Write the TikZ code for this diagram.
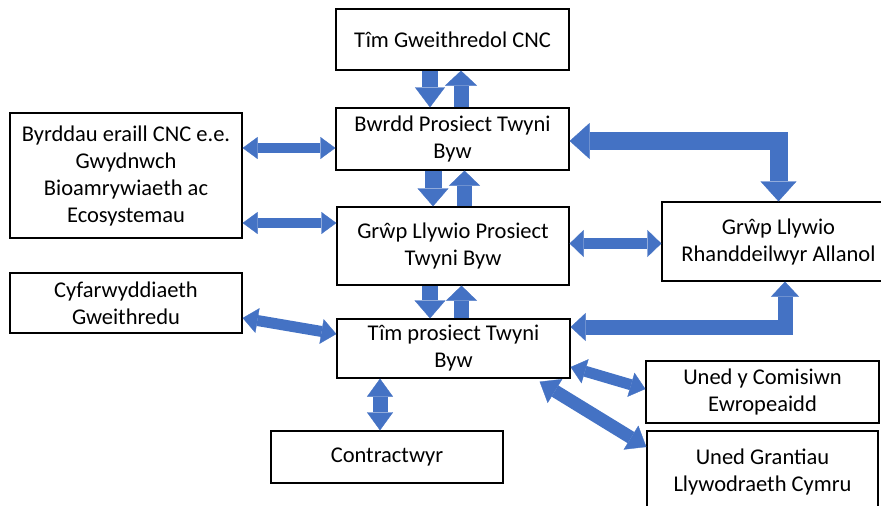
\documentclass[tikz,border=0pt]{standalone}
\usepackage{fontspec}
\setmainfont{Carlito}
\usetikzlibrary{arrows.meta,calc}
\definecolor{arrblue}{HTML}{4472C4}
\begin{document}
\begin{tikzpicture}[x=1pt,y=-1pt,
  box/.style={draw=black,line width=1.3pt,fill=white,inner sep=0pt,align=center,
    font=\fontsize{22.5}{27}\selectfont},
  blk/.style={draw=arrblue,line join=miter,line cap=butt},
  dbl/.style n args={3}{blk,line width=#1,
    arrows={Triangle[length=#3,width=#2,line width=0.3pt,color=arrblue]-Triangle[length=#3,width=#2,line width=0.3pt,color=arrblue]}},
  sgl/.style n args={3}{blk,line width=#1,
    arrows={-Triangle[length=#3,width=#2,line width=0.3pt,color=arrblue]}},
]
\clip (0,0) rectangle (881,506);
\fill[white] (0,0) rectangle (881,506);

\node[box,minimum width=233pt,minimum height=61pt] (gweith) at (452.5,39.5) {Tîm Gweithredol CNC};
\node[box,minimum width=233pt,minimum height=62pt] (bwrdd) at (452.5,139) {Bwrdd Prosiect Twyni\\Byw};
\node[box,minimum width=232pt,minimum height=125pt] (byrdd) at (126,175.5) {Byrddau eraill CNC e.e.\\Gwydnwch\\Bioamrywiaeth ac\\Ecosystemau};
\node[box,minimum width=232pt,minimum height=78pt] (grwp) at (453,246) {Grŵp Llywio Prosiect\\Twyni Byw};
\node[box,minimum width=233pt,minimum height=79pt] (rhand) at (778.5,241.5) {Grŵp Llywio\\Rhanddeilwyr Allanol};
\node[box,minimum width=232pt,minimum height=60pt] (cyf) at (126,303) {Cyfarwyddiaeth\\Gweithredu};
\node[box,minimum width=233pt,minimum height=59pt] (tim) at (453.5,348.5) {Tîm prosiect Twyni\\Byw};
\node[box,minimum width=232pt,minimum height=52pt] (cont) at (387,457) {Contractwyr};
\node[box,minimum width=233pt,minimum height=62pt] (comis) at (762.5,392) {Uned y Comisiwn\\Ewropeaidd};
\node[box,minimum width=231pt,minimum height=81pt] (grant) at (762.5,471.5) {Uned Grantiau\\Llywodraeth Cymru};

% vertical pairs
\draw[sgl={16}{30pt}{20pt}] ([xshift=-22.5pt]gweith.south) -- ([xshift=-22.5pt]gweith.south |- bwrdd.north);
\draw[sgl={15}{32pt}{15pt}] ([xshift=8.5pt]bwrdd.north) -- ([xshift=8.5pt]bwrdd.north |- gweith.south);
\draw[sgl={17}{31pt}{18pt}] ([xshift=-19.5pt]bwrdd.south) -- ([xshift=-19.5pt]bwrdd.south |- grwp.north);
\draw[sgl={15}{31pt}{15pt}] ([xshift=11.5pt]grwp.north) -- ([xshift=11.5pt]grwp.north |- bwrdd.south);
\draw[sgl={16}{31pt}{18pt}] ([xshift=-23pt]grwp.south) -- ([xshift=-23pt]grwp.south |- tim.north);
\draw[sgl={15}{31pt}{15pt}] ([xshift=8pt]tim.north) -- ([xshift=8pt]tim.north |- grwp.south);

% left side
\draw[dbl={10}{22pt}{15pt}] ([yshift=27.5pt]byrdd.east) -- ([yshift=27.5pt]byrdd.east -| bwrdd.west);
\draw[dbl={10}{22pt}{15pt}] ([yshift=-47.5pt]byrdd.east) -- ([yshift=-47.5pt]byrdd.east -| grwp.west);
\draw[dbl={11}{25pt}{15pt}] ([yshift=-15pt]cyf.east) -- ([yshift=14.5pt]tim.west);

% right side
\draw[dbl={18}{36pt}{20pt}] ([yshift=-2pt]bwrdd.east) -| (rhand.north);
\draw[dbl={11}{27pt}{14pt}] ([yshift=2.5pt]grwp.east) -- ([yshift=2.5pt]grwp.east -| rhand.west);
\draw[dbl={15}{28pt}{15pt}] ([yshift=21.5pt]tim.east) -| ([xshift=6.5pt]rhand.south);

% bottom
\draw[dbl={15}{26pt}{18pt}] ([xshift=-73.5pt]tim.south) -- ([xshift=-7pt]cont.north);
\draw[dbl={11}{25pt}{15pt}] ([yshift=-18.5pt]tim.east) -- ([yshift=3pt]comis.west);
\draw[dbl={13}{28pt}{18pt}] ([xshift=-31pt,yshift=-3pt]tim.south east) -- ([yshift=24.5pt]grant.west);
\end{tikzpicture}
\end{document}
